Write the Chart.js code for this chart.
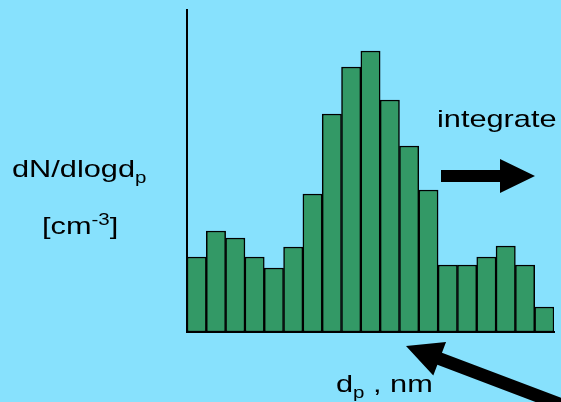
<!DOCTYPE html>
<html>
<head>
<meta charset="utf-8">
<script src="https://cdn.jsdelivr.net/npm/chart.js@4"></script>
<style>
  html, body { margin: 0; padding: 0; background: #87e1fd; }
  #wrap { width: 561px; height: 402px; }
</style>
</head>
<body>
<div id="wrap"><canvas id="myChart" width="561" height="402"></canvas></div>
<script>
// size bins (no tick labels shown on the original)
const bins = ["1","2","3","4","5","6","7","8","9","10","11","12","13","14","15","16","17","18","19"];
// dN/dlogdp, arbitrary units
const counts = [75, 101, 94, 75, 64, 85, 138, 218, 265, 281, 232, 186, 142, 67, 67, 75, 86, 67, 25];
const yMax = 322;

const BAR_GREEN = "#339966";
const STRETCH = 1.28; // the slide text is drawn wide

function wideText(ctx, parts, x, y) {
    // parts: [text, size, dy]
    ctx.save();
    ctx.translate(x, y);
    ctx.scale(STRETCH, 1);
    let cx = 0;
    for (const p of parts) {
        ctx.font = p[1] + "px 'Liberation Sans', Arial, sans-serif";
        ctx.fillText(p[0], cx, p[2]);
        cx += ctx.measureText(p[0]).width;
    }
    ctx.restore();
}

function arrow(ctx, x1, y1, x2, y2, w, headLen, headW) {
    const a = Math.atan2(y2 - y1, x2 - x1);
    const len = Math.hypot(x2 - x1, y2 - y1);
    ctx.save();
    ctx.translate(x1, y1);
    ctx.rotate(a);
    ctx.beginPath();
    ctx.moveTo(0, -w / 2);
    ctx.lineTo(len - headLen, -w / 2);
    ctx.lineTo(len - headLen, -headW / 2);
    ctx.lineTo(len, 0);
    ctx.lineTo(len - headLen, headW / 2);
    ctx.lineTo(len - headLen, w / 2);
    ctx.lineTo(0, w / 2);
    ctx.closePath();
    ctx.fill();
    ctx.restore();
}

const slideDeco = {
    id: "slideDeco",
    afterDraw(chart) {
        const ctx = chart.ctx;
        const area = chart.chartArea;
        ctx.fillStyle = "#000";
        ctx.textBaseline = "alphabetic";
        wideText(ctx, [["dN/dlogd", 24, 0], ["p", 16, 6]], 12, 177);
        wideText(ctx, [["[cm", 24, 0], ["-3", 16, -9], ["]", 24, 0]], 42, 234);
        wideText(ctx, [["integrate", 24, 0]], 437, 127);
        wideText(ctx, [["d", 24, 0], ["p", 16, 6], [" , nm", 24, 0]], 336, 392);
        // right arrow ("integrate")
        arrow(ctx, 441, 176, 535, 176, 12, 35, 34);
        // arrow pointing at the x axis
        arrow(ctx, 575, 410, area.left + 219, area.bottom + 14, 13, 36, 36);
    }
};

new Chart("myChart", {
    type: "bar",
    data: {
        labels: bins,
        datasets: [{
            data: counts,
            backgroundColor: BAR_GREEN,
            borderColor: "#000",
            borderWidth: 1.5,
            borderSkipped: false,
            barPercentage: 1,
            categoryPercentage: 1
        }]
    },
    options: {
        responsive: false,
        animation: false,
        layout: { padding: { left: 179, right: 7, top: 10, bottom: 62 } },
        plugins: {
            legend: { display: false },
            tooltip: { enabled: false }
        },
        scales: {
            x: {
                grid: { display: false },
                ticks: { display: false },
                border: { display: true, color: "#000", width: 2 }
            },
            y: {
                min: 0,
                max: yMax,
                grid: { display: false },
                ticks: { display: false },
                border: { display: true, color: "#000", width: 2 }
            }
        }
    },
    plugins: [slideDeco]
});
</script>
</body>
</html>
